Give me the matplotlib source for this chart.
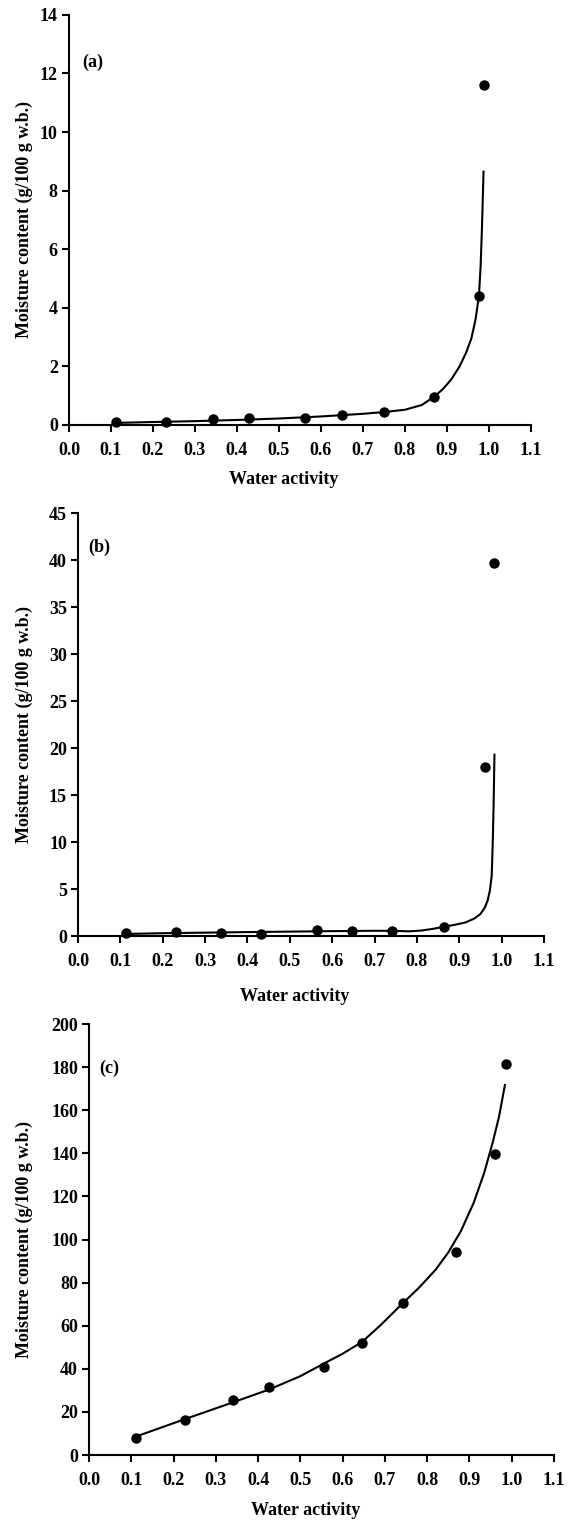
import matplotlib
matplotlib.use("Agg")
import matplotlib.pyplot as plt

# --- CONFIG ---
plt.rcParams['font.family'] = ['Liberation Serif', 'DejaVu Serif']
plt.rcParams['font.weight'] = 'bold'
plt.rcParams['font.size'] = 13

XTICKS = [0.0, 0.1, 0.2, 0.3, 0.4, 0.5, 0.6, 0.7, 0.8, 0.9, 1.0, 1.1]
XTICK_LABELS = ["0.0", "0.1", "0.2", "0.3", "0.4", "0.5", "0.6", "0.7", "0.8", "0.9", "1.0", "1.1"]

# --- DATA: (a) ---
aw_a = [0.113, 0.230, 0.342, 0.429, 0.561, 0.650, 0.749, 0.870, 0.977, 0.987]
mc_a = [0.11, 0.11, 0.19, 0.23, 0.25, 0.34, 0.45, 0.97, 4.4, 11.6]
fit_aw_a = [0.113, 0.2, 0.3, 0.4, 0.5, 0.6, 0.7, 0.75, 0.8, 0.84, 0.87, 0.89, 0.91, 0.93, 0.945,
            0.958, 0.968, 0.976, 0.980, 0.983, 0.985, 0.987]
fit_mc_a = [0.07, 0.10, 0.13, 0.17, 0.22, 0.29, 0.38, 0.44, 0.52, 0.68, 0.97, 1.22, 1.55, 2.0, 2.45,
            2.95, 3.6, 4.4, 5.4, 6.6, 7.6, 8.65]

# --- DATA: (b) ---
aw_b = [0.113, 0.232, 0.337, 0.433, 0.563, 0.647, 0.742, 0.865, 0.961, 0.982]
mc_b = [0.29, 0.39, 0.36, 0.18, 0.64, 0.54, 0.57, 1.0, 17.96, 39.7]
fit_aw_b = [0.113, 0.2, 0.3, 0.4, 0.5, 0.6, 0.7, 0.75, 0.78, 0.81, 0.84, 0.865, 0.89, 0.915, 0.935,
            0.95, 0.96, 0.967, 0.972, 0.9765, 0.979, 0.981, 0.983]
fit_mc_b = [0.22, 0.30, 0.36, 0.42, 0.47, 0.52, 0.56, 0.55, 0.50, 0.58, 0.78, 1.0, 1.2, 1.45, 1.85,
            2.35, 3.0, 3.8, 4.8, 6.4, 10.0, 14.0, 19.3]

# --- DATA: (c) ---
aw_c = [0.110, 0.226, 0.340, 0.426, 0.557, 0.646, 0.742, 0.868, 0.961, 0.987]
mc_c = [8.0, 16.3, 25.5, 31.5, 41.0, 51.9, 70.7, 94.1, 139.7, 181.6]
fit_aw_c = [0.110, 0.226, 0.340, 0.426, 0.5, 0.557, 0.60, 0.646, 0.690, 0.742, 0.78, 0.82, 0.85,
            0.88, 0.91, 0.935, 0.955, 0.970, 0.984]
fit_mc_c = [8.5, 16.6, 24.4, 30.4, 36.6, 42.6, 47.0, 52.5, 60.3, 70.4, 77.5, 86.0, 94.0,
            104.0, 117.0, 131.0, 145.0, 157.0, 171.7]

panels = [
    # (data x, data y, fit x, fit y, y max, y step, label, axes rect, label pos, ylabel x, xlabel y)
    (aw_a, mc_a, fit_aw_a, fit_mc_a, 14, 2, "(a)", [0.1206, 0.7208, 0.8077, 0.2694], (0.028, 0.885), -0.097, -0.134),
    (aw_b, mc_b, fit_aw_b, fit_mc_b, 45, 5, "(b)", [0.1364, 0.3850, 0.8147, 0.2779], (0.021, 0.920), -0.116, -0.144),
    (aw_c, mc_c, fit_aw_c, fit_mc_c, 200, 20, "(c)", [0.1556, 0.0440, 0.8129, 0.2832], (0.022, 0.896), -0.140, -0.128),
]

# --- PLOT ---
fig = plt.figure(figsize=(5.72, 15.22), dpi=100)

for x, y, fx, fy, ymax, ystep, lab, rect, lpos, ylx, xly in panels:
    ax = fig.add_axes(rect)
    ax.plot(fx, fy, color='black', lw=1.5, zorder=2)
    ax.plot(x, y, 'o', color='black', ms=6.5, zorder=3, clip_on=False)

    ax.set_xlim(0, 1.1)
    ax.set_ylim(0, ymax)
    ax.set_xticks(XTICKS)
    ax.set_xticklabels(XTICK_LABELS)
    ax.set_yticks(list(range(0, ymax + 1, ystep)))

    for s in ['top', 'right']:
        ax.spines[s].set_visible(False)
    for s in ['left', 'bottom']:
        ax.spines[s].set_linewidth(1.5)
    ax.tick_params(direction='out', length=5, width=1.5, labelsize=13)
    ax.tick_params(axis='x', pad=7)
    ax.tick_params(axis='y', pad=3)

    ax.set_xlabel("Water activity", fontsize=13, fontweight='bold')
    ax.xaxis.label.set_va('center')
    ax.xaxis.set_label_coords(0.465, xly)
    ax.set_ylabel("Moisture content (g/100 g w.b.)", fontsize=13, fontweight='bold')
    ax.yaxis.label.set_va('center')
    ax.yaxis.set_label_coords(ylx, 0.5)

    ax.text(lpos[0], lpos[1], lab, transform=ax.transAxes, ha='left', va='center',
            fontsize=13, fontweight='bold')

fig.savefig("out.png", dpi=100)
